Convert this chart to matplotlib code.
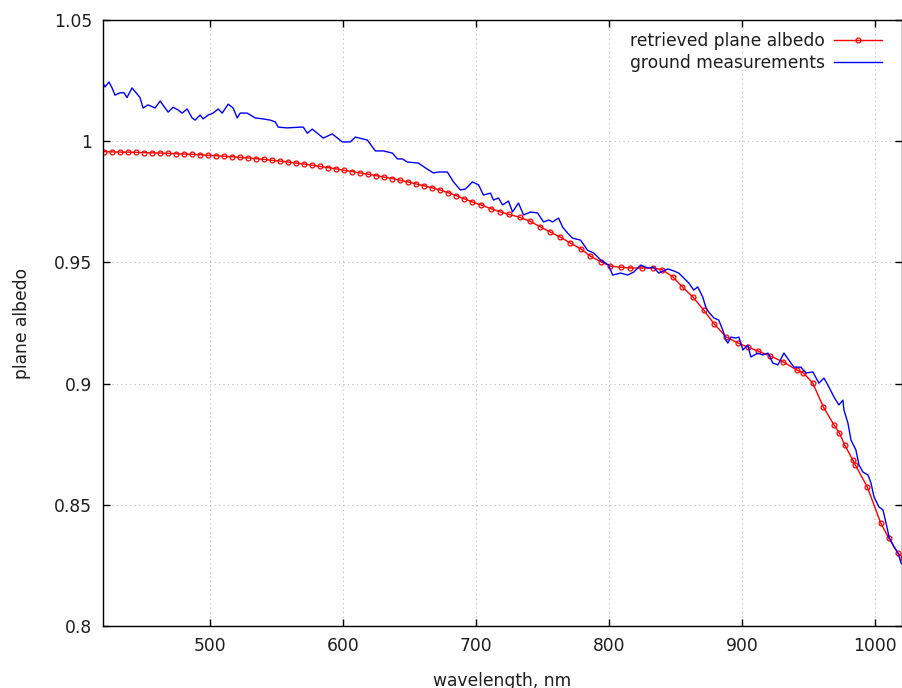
import numpy as np
import matplotlib
matplotlib.use("Agg")
import matplotlib.pyplot as plt

# retrieved plane albedo (red, with markers)
red_wl = [421, 427, 433, 439, 445, 451, 457, 463, 469, 475, 481, 487, 493, 499,
          505, 511, 517, 523, 529, 535, 541, 547, 553, 559, 565, 571, 577, 583,
          589, 595, 601, 607, 613, 619, 625, 631, 637, 643, 649, 655, 661, 667,
          673, 679, 685, 691, 697, 704, 711, 718, 725, 733, 741, 748, 756, 763,
          771, 779, 786, 794, 801, 809, 816, 825, 833, 840, 848, 855, 863, 871,
          879, 888, 897, 904, 912, 921, 931, 941, 946, 953, 961, 969, 973, 977,
          983, 985, 994, 1004, 1010, 1017, 1021]
red_alb = [0.9957, 0.9956, 0.9955, 0.9955, 0.9954, 0.9953, 0.9952, 0.9951, 0.9950,
           0.9948, 0.9947, 0.9946, 0.9944, 0.9942, 0.9940, 0.9938, 0.9936, 0.9933,
           0.9931, 0.9928, 0.9925, 0.9921, 0.9918, 0.9914, 0.9910, 0.9906, 0.9901,
           0.9896, 0.9891, 0.9886, 0.9880, 0.9875, 0.9869, 0.9864, 0.9858, 0.9852,
           0.9846, 0.9839, 0.9832, 0.9824, 0.9816, 0.9808, 0.9799, 0.9788, 0.9776,
           0.9763, 0.9750, 0.9737, 0.9722, 0.9709, 0.9698, 0.9686, 0.9669, 0.9648,
           0.9625, 0.9605, 0.9580, 0.9555, 0.9526, 0.9502, 0.9485, 0.9480, 0.9477,
           0.9477, 0.9477, 0.9470, 0.9440, 0.9399, 0.9357, 0.9304, 0.9246, 0.9192,
           0.9167, 0.9151, 0.9134, 0.9114, 0.9089, 0.9056, 0.9044, 0.9002, 0.8903,
           0.8829, 0.8796, 0.8747, 0.8685, 0.8664, 0.8573, 0.8425, 0.8363, 0.8301,
           0.8280]

# ground measurements (blue)
blue_wl = [420.0, 421.5, 424.5, 426.8, 429.0, 432.8, 435.8, 438.0, 441.8, 447.8,
           450.1, 453.8, 459.1, 462.9, 468.9, 472.6, 476.4, 479.4, 483.2, 486.9,
           489.2, 492.9, 495.2, 498.9, 502.7, 506.5, 509.5, 514.0, 517.7, 520.8,
           523.0, 528.3, 534.3, 540.3, 545.6, 549.3, 551.6, 558.3, 568.1, 570.4,
           573.4, 577.1, 585.4, 592.2, 599.7, 605.7, 609.5, 618.5, 624.5, 630.5,
           637.3, 641.1, 644.8, 648.6, 656.8, 662.1, 668.1, 671.9, 678.6, 683.2,
           688.4, 692.2, 697.4, 702.0, 705.7, 711.0, 713.2, 717.0, 720.0, 724.5,
           727.5, 732.0, 735.8, 741.1, 746.3, 750.8, 754.6, 757.6, 762.1, 765.1,
           768.9, 772.6, 778.6, 783.9, 788.4, 793.7, 799.7, 802.7, 808.7, 814.0,
           818.5, 823.8, 829.0, 833.5, 837.3, 844.1, 848.6, 852.3, 856.1, 859.9,
           863.6, 866.6, 870.4, 872.6, 874.9, 878.7, 882.4, 885.4, 887.7, 889.2,
           891.5, 895.2, 897.5, 900.5, 904.2, 906.5, 911.8, 915.5, 919.3, 923.0,
           926.8, 931.3, 935.1, 938.8, 944.1, 947.8, 953.1, 957.6, 961.4, 965.1,
           968.9, 972.6, 975.6, 976.4, 979.4, 981.7, 985.4, 987.7, 990.7, 994.5,
           996.7, 999.0, 1002.7, 1005.7, 1008.0, 1010.3, 1014.0, 1017.0, 1019.3, 1020.8]
blue_alb = [1.0240, 1.0224, 1.0244, 1.0220, 1.0190, 1.0200, 1.0200, 1.0180, 1.0220, 1.0180,
            1.0137, 1.0150, 1.0137, 1.0166, 1.0120, 1.0140, 1.0129, 1.0116, 1.0133, 1.0096,
            1.0087, 1.0108, 1.0092, 1.0108, 1.0116, 1.0133, 1.0116, 1.0153, 1.0137, 1.0096,
            1.0116, 1.0116, 1.0096, 1.0092, 1.0087, 1.0080, 1.0058, 1.0055, 1.0058, 1.0058,
            1.0033, 1.0050, 1.0013, 1.0030, 0.9997, 0.9997, 1.0017, 1.0005, 0.9960, 0.9960,
            0.9951, 0.9927, 0.9927, 0.9914, 0.9910, 0.9890, 0.9869, 0.9873, 0.9873, 0.9832,
            0.9799, 0.9803, 0.9832, 0.9820, 0.9778, 0.9786, 0.9757, 0.9766, 0.9737, 0.9753,
            0.9708, 0.9745, 0.9696, 0.9708, 0.9704, 0.9667, 0.9675, 0.9667, 0.9683, 0.9646,
            0.9621, 0.9600, 0.9592, 0.9550, 0.9539, 0.9510, 0.9489, 0.9448, 0.9456, 0.9448,
            0.9460, 0.9489, 0.9477, 0.9480, 0.9456, 0.9473, 0.9465, 0.9456, 0.9436, 0.9415,
            0.9386, 0.9399, 0.9357, 0.9316, 0.9295, 0.9271, 0.9262, 0.9221, 0.9180, 0.9167,
            0.9192, 0.9188, 0.9192, 0.9139, 0.9159, 0.9110, 0.9126, 0.9118, 0.9126, 0.9085,
            0.9077, 0.9126, 0.9097, 0.9068, 0.9068, 0.9044, 0.9048, 0.9002, 0.9023, 0.8986,
            0.8945, 0.8912, 0.8932, 0.8891, 0.8837, 0.8767, 0.8726, 0.8664, 0.8635, 0.8623,
            0.8590, 0.8532, 0.8491, 0.8479, 0.8425, 0.8367, 0.8326, 0.8301, 0.8260, 0.8252]

x_ticks = [500, 600, 700, 800, 900, 1000]
y_ticks = [0.8, 0.85, 0.9, 0.95, 1.0, 1.05]
y_tick_labels = ["0.8", "0.85", "0.9", "0.95", "1", "1.05"]

txt = "#1e1e1e"
fs = 12.3

fig = plt.figure(figsize=(9.02, 6.88), dpi=100)
ax = fig.add_axes([0.1142, 0.0901, 0.8858, 0.8808])

ax.plot(red_wl, red_alb, color="#ff0000", lw=1.0, marker="o", ms=3.5,
        mfc="none", mec="#ff0000", mew=0.9, label="retrieved plane albedo")
ax.plot(blue_wl, blue_alb, color="#0000ff", lw=1.0, label="ground measurements")

ax.set_xlim(420, 1020)
ax.set_ylim(0.8, 1.05)
ax.set_xticks(x_ticks)
ax.set_yticks(y_ticks)
ax.set_yticklabels(y_tick_labels)
ax.tick_params(direction="in", length=5, width=1, top=True, right=True,
               labelsize=fs, labelcolor=txt, pad=8)
ax.grid(True, color="#bbbbbb", linestyle=(0, (1, 3)), linewidth=0.8)
for s in ax.spines.values():
    s.set_linewidth(1.0)

ax.set_xlabel("wavelength, nm", fontsize=fs, color=txt, labelpad=12)
ax.set_ylabel("plane albedo", fontsize=fs, color=txt, labelpad=16)

leg = ax.legend(loc="upper right", bbox_to_anchor=(1.0, 1.014), frameon=False,
                markerfirst=False, fontsize=fs, handlelength=2.8,
                borderaxespad=0.8, labelspacing=0.25, handletextpad=0.5)
for t in leg.get_texts():
    t.set_ha("right")
    t.set_color(txt)

fig.savefig("out.png", dpi=100)
